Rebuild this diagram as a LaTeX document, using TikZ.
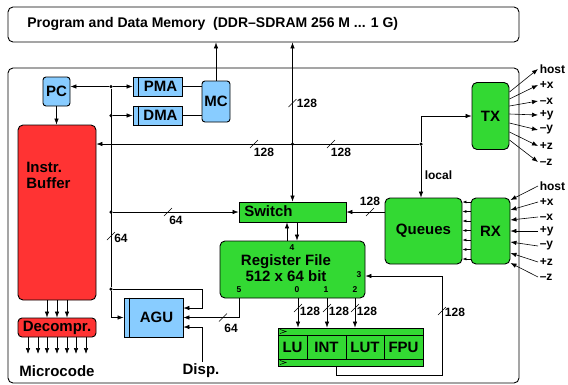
\documentclass[tikz,border=0pt]{standalone}
\usepackage{fontspec}
\setmainfont{Liberation Sans}
\usetikzlibrary{arrows.meta}
\definecolor{cellgreen}{RGB}{51,217,51}
\definecolor{cellred}{RGB}{255,51,51}
\definecolor{cellblue}{RGB}{136,204,255}
% short slash across a bus
\newcommand{\busslash}[2]{\draw (#1-4,#2+4) -- (#1+4,#2-4);}
\begin{document}
\begin{tikzpicture}[x=1pt,y=-1pt,
  every node/.style={font=\bfseries,inner sep=2pt},
  >={Latex[length=6pt,width=4.5pt]},
  line width=0.6pt,
  blk/.style={draw=black,line width=0.9pt,rounded corners=3pt,inner sep=0pt,font=\fontsize{15}{17}\selectfont\bfseries},
  greenblk/.style={blk,fill=cellgreen},
  redblk/.style={blk,fill=cellred},
  blueblk/.style={blk,fill=cellblue},
  frame/.style={draw=black,line width=0.9pt,rounded corners=5pt,inner sep=0pt},
  buslabel/.style={font=\fontsize{12}{14}\selectfont\bfseries,inner sep=1.5pt},
  portlabel/.style={font=\fontsize{8.5}{10}\selectfont\bfseries,inner sep=0pt},
  biglabel/.style={font=\fontsize{15}{16}\selectfont\bfseries},
  junction/.style={circle,fill=black,inner sep=0pt,minimum size=3.5pt}
]
\useasboundingbox (0,0) rectangle (568,384);

% memory and chip
\node[frame,minimum width=511pt,minimum height=35pt] (mem) at (263.5,24.5) {};
\node[anchor=west,font=\fontsize{14}{16}\selectfont\bfseries] (memtext) at (25,24) {Program and Data Memory\ \ (DDR--SDRAM 256 M ... 1 G)};
\node[frame,minimum width=511pt,minimum height=315pt] (chip) at (263.5,225.5) {};

% blocks
\node[blueblk,minimum width=27pt,minimum height=29pt] (pc) at (56.5,91.5) {PC};
\node[blueblk,rounded corners=0pt,minimum width=49pt,minimum height=19pt] (pma) at (157.5,86.5) {\hspace*{6pt}PMA};
\node[blueblk,rounded corners=0pt,minimum width=49pt,minimum height=19pt] (dma) at (157.5,115.5) {\hspace*{6pt}DMA};
\draw[line width=0.9pt] ([xshift=6pt]pma.north west) -- ([xshift=6pt]pma.south west);
\draw[line width=0.9pt] ([xshift=6pt]dma.north west) -- ([xshift=6pt]dma.south west);
\node[blueblk,minimum width=28pt,minimum height=41pt] (mc) at (216,101.5) {MC};

\node[redblk,rounded corners=5pt,minimum width=78pt,minimum height=175pt] (buff) at (57,212.5) {};
\node[biglabel,anchor=north west,align=left,inner sep=0pt] (bufftext) at (26,162) {Instr.\\Buffer};
\node[redblk,rounded corners=4pt,minimum width=78pt,minimum height=19pt] (dec) at (57,327.5) {Decompr.};
\node[biglabel] (mcode) at (57,371) {Microcode};
\coordinate (mcend) at (57,354);

\node[blueblk,rounded corners=0pt,minimum width=59pt,minimum height=39pt] (agu) at (153.5,317.5) {\hspace*{6pt}AGU};
\draw[line width=0.9pt] ([xshift=6pt]agu.north west) -- ([xshift=6pt]agu.south west);
\node[biglabel] (disp) at (201,371) {Disp.};

\node[greenblk,rounded corners=0pt,minimum width=107pt,minimum height=20pt] (sw) at (292.5,212) {};
\node[biglabel,anchor=west,inner sep=0pt] (swtext) at (244,211.5) {Switch};

\node[greenblk,rounded corners=5pt,minimum width=145pt,minimum height=57pt] (rf) at (292.5,269.5) {};
\node[biglabel,align=center,inner sep=0pt] (rftext) at (286,268.5) {Register File\\512 x 64 bit};
\node[portlabel] (p4) at (292,248) {4};
\node[portlabel] (p5) at (239,290) {5};
\node[portlabel] (p0) at (297,290) {0};
\node[portlabel] (p1) at (326,290) {1};
\node[portlabel] (p2) at (355,290) {2};
\node[portlabel] (p3) at (359,275) {3};

% function units
\node[greenblk,rounded corners=0pt,minimum width=145pt,minimum height=38pt] (fu) at (350.5,347) {};
\draw (278,335) -- (423,335);
\draw (278,359) -- (423,359);
\draw (307,335) -- (307,359);
\draw (346,335) -- (346,359);
\draw (384,335) -- (384,359);
\draw (280,329.5) -- (286,331.5) -- (280,333.5);
\draw (280,360.5) -- (286,362.5) -- (280,364.5);
\node[biglabel] (lu) at (292.5,347) {LU};
\node[biglabel] (int) at (326.5,347) {INT};
\node[biglabel] (lut) at (365,347) {LUT};
\node[biglabel] (fpu) at (403.5,347) {FPU};

\node[greenblk,rounded corners=5pt,minimum width=77pt,minimum height=66pt] (queues) at (423.5,231) {Queues};
\node[greenblk,rounded corners=5pt,minimum width=39pt,minimum height=66pt] (rx) at (490.5,231) {RX};
\node[greenblk,rounded corners=5pt,minimum width=37pt,minimum height=67pt] (tx) at (490.5,116) {TX};

% junctions
\node[junction] (j1) at (111,86.5) {};
\node[junction] (j2) at (111,115.5) {};
\node[junction] (j3) at (111,212) {};
\node[junction] (j4) at (111,289) {};
\node[junction] (j5) at (292.5,144) {};
\node[junction] (j6) at (421,144) {};

% address side
\draw[->] (j1) -- (pc.east |- j1);
\draw[->] (j1) -- (pma.west);
\draw[->] (j2) -- (dma.west);
\draw (j1) -- (j4);
\draw[->] (j4) |- (agu.west);
\draw (pma.east) -- (pma.east -| mc.west);
\draw (dma.east) -- (dma.east -| mc.west);
\draw[->] (mc.north) -- (mc.north |- mem.south);
\draw[->] (pc.south) -- (pc.south |- buff.north);

% data buses
\draw[<->] (sw.north) -- (sw.north |- mem.south);
\busslash{292.5}{103}
\node[buslabel] (w1) at (307,103) {128};
\draw[->] (j6) -- (buff.east |- j6);
\busslash{254}{144}
\node[buslabel] (w2) at (264,152) {128};
\busslash{331}{144}
\node[buslabel] (w3) at (341,152) {128};
\draw[->] (j6) |- (tx.west);
\draw[->] (j6) -- (queues.north -| j6);
\node[buslabel,anchor=west] (local) at (423,175) {local};

\draw[->] (j3) -- (sw.west);
\busslash{168}{212}
\node[buslabel] (w4) at (176,220) {64};
\busslash{111}{236}
\node[buslabel] (w5) at (121,238) {64};
\draw[->] (queues.west |- sw.east) -- (sw.east);
\busslash{370}{212}
\node[buslabel] (w6) at (370,201) {128};
\draw[->] (rf.north -| 287,0) -- (sw.south -| 287,0);
\draw[->] (sw.south -| 297,0) -- (rf.north -| 297,0);

% AGU inputs
\draw[->] (j4) -| (202,308) -- (agu.east |- 0,308);
\draw[->] (rf.south -| 239,0) |- (agu.east);
\busslash{223}{317.5}
\node[buslabel] (w7) at (231,328) {64};
\draw[->] (disp.north -| 202,0) |- (agu.east |- 0,327);

% register file to units and back
\foreach \x in {298,327,355} {
  \draw[->] (rf.south -| \x,0) -- (fu.north -| \x,0);
  \busslash{\x}{308}
  \node[buslabel] (w\x) at (\x+12,311) {128};
}
\draw[->] (fu.south -| 336,0) -- (336,375) -| (442,276) -- (rf.east |- 0,276);
\busslash{442}{311}
\node[buslabel] (w8) at (455,312) {128};

% instruction path
\foreach \x in {47,57,67}
  \draw[->] (buff.south -| \x,0) -- (dec.north -| \x,0);
\foreach \x in {28,38,47,57,67,76,86}
  \draw[->] (dec.south -| \x,0) -- (mcend -| \x,0);

% network links
\foreach \y in {202,211.5,221,230.5,240,249.5,259}
  \draw[-{Latex[length=4pt,width=3pt]}] (rx.west |- 0,\y) -- (queues.east |- 0,\y);
\foreach \lab/\ya/\yb [count=\i] in {host/92/69, +x/99/85, --x/106/101, +y/114/115, --y/123/130, +z/132/146, --z/140/162} {
  \node[buslabel,anchor=west] (txo\i) at (538,\yb) {\lab};
  \draw[->] (tx.east |- 0,\ya) -- (txo\i.west);
}
\foreach \lab/\ya/\yb [count=\i] in {host/200/186, +x/210/202, --x/220/217, +y/231/231, --y/242/246, +z/253/262, --z/263/277} {
  \node[buslabel,anchor=west] (rxi\i) at (538,\yb) {\lab};
  \draw[->] (rxi\i.west) -- (rx.east |- 0,\ya);
}
\end{tikzpicture}
\end{document}
